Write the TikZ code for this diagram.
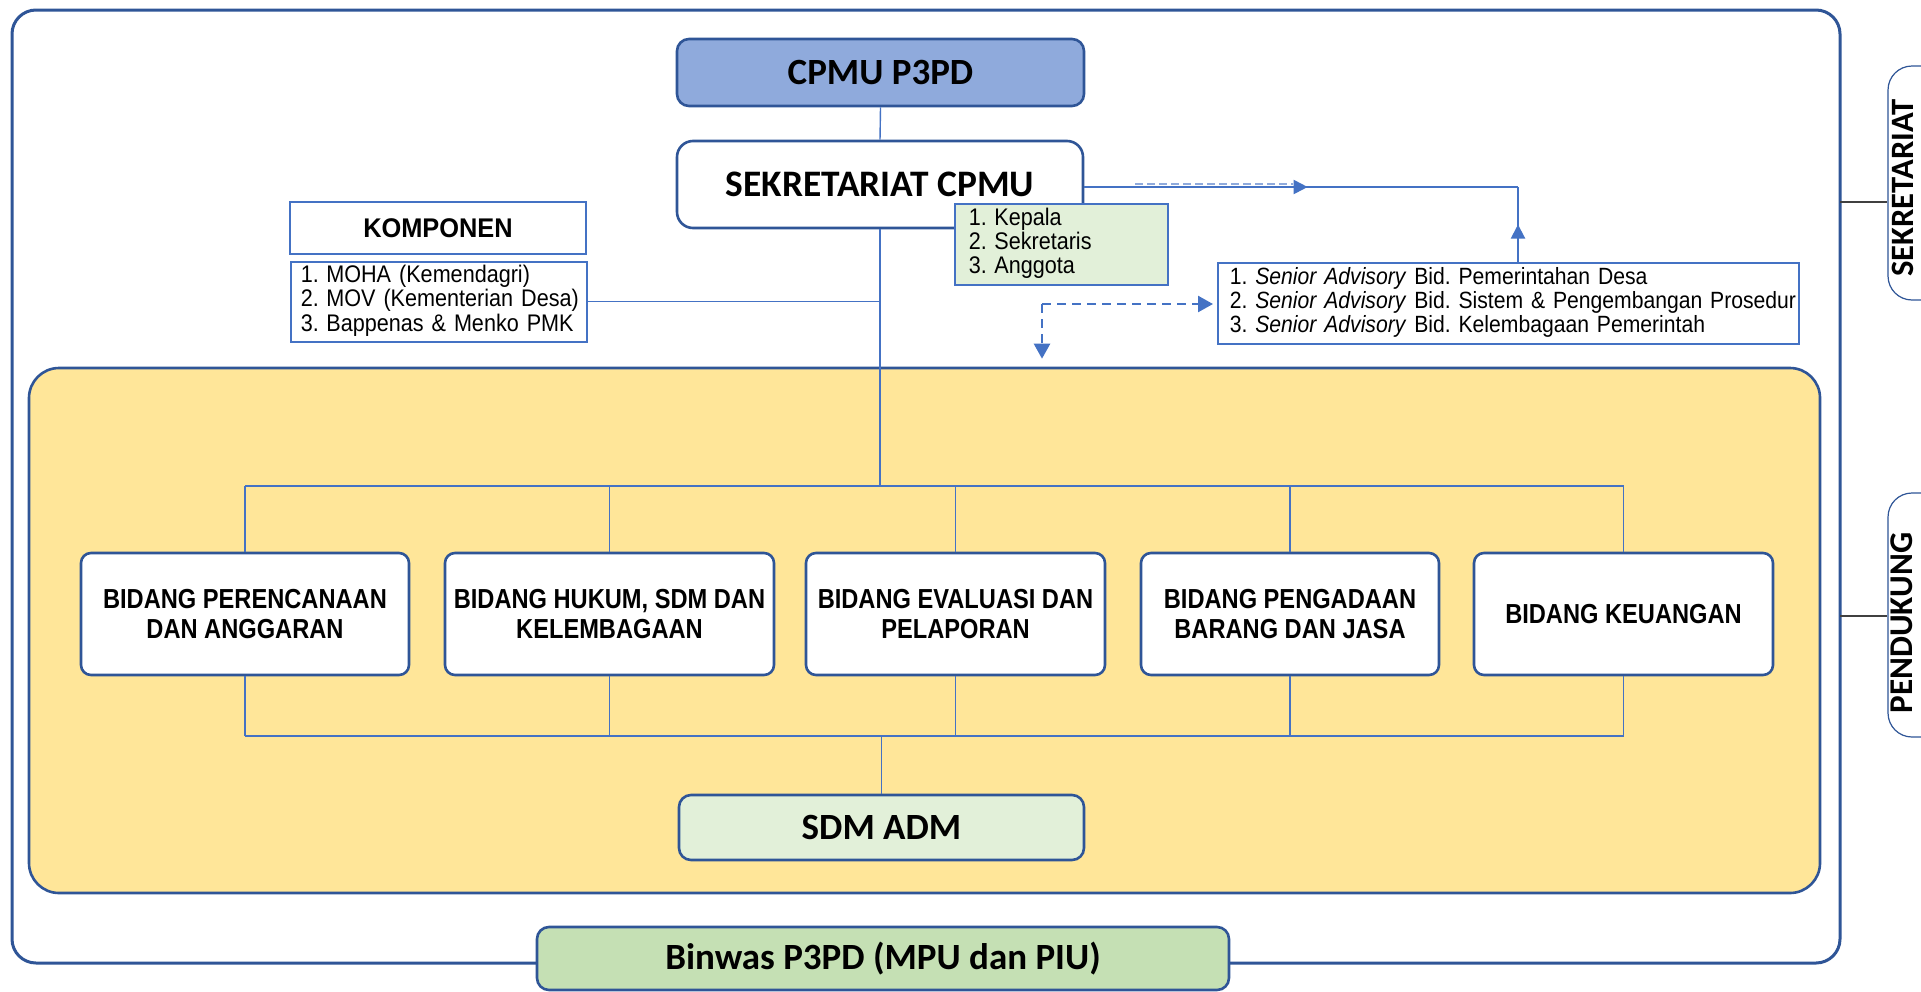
\documentclass[tikz,border=0pt]{standalone}
\usepackage{fontspec}
\setmainfont{Carlito}
\newfontfamily\listfont[FakeStretch=0.9]{Liberation Sans}
\newfontfamily\bidfont[FakeStretch=0.86]{Liberation Sans}
\newfontfamily\headfont[FakeStretch=0.94]{Liberation Sans}
\usetikzlibrary{arrows.meta,decorations.markings}

\definecolor{frameblue}{HTML}{2F5597}
\definecolor{lineblue}{HTML}{4472C4}
\definecolor{softblue}{HTML}{8FAADC}
\definecolor{cpmufill}{HTML}{8FAADC}
\definecolor{panelyellow}{HTML}{FFE699}
\definecolor{palegreen}{HTML}{E2F0D9}
\definecolor{binwasgreen}{HTML}{C5E0B4}
\definecolor{sidegray}{HTML}{404040}

% numbered list line: number in a fixed-width slot, then the item
\newcommand\numitem[2]{\makebox[12.8pt][l]{#1}#2}

\begin{document}
\begin{tikzpicture}[x=0.5pt,y=-0.5pt,
  titlebox/.style={draw=frameblue, line width=1.3pt, rounded corners=6pt, inner sep=0pt,
    font=\bfseries\fontsize{18.5}{20}\selectfont},
  bidbox/.style={draw=frameblue, fill=white, line width=1.3pt, rounded corners=5pt, inner sep=0pt,
    minimum height=61pt, align=center, font=\bidfont\bfseries\fontsize{13.75}{15}\selectfont},
  listbox/.style={draw=lineblue, line width=0.75pt, inner ysep=0pt, align=left, anchor=north west,
    font=\listfont\frenchspacing\fontsize{12}{11.6}\selectfont},
  conn/.style={draw=lineblue, line width=0.7pt},
  arrowline/.style={draw=lineblue, line width=1pt},
  dasharrow/.style={draw=lineblue, line width=1.25pt, dash pattern=on 4.5pt off 3pt,
    -{Triangle[width=8pt,length=7.5pt]}},
  sidebox/.style={draw=frameblue, line width=0.6pt, rounded corners=12pt, minimum width=40pt, inner sep=0pt},
  sidetext/.style={rotate=90, font=\bfseries\fontsize{16.3}{18}\selectfont},
  sideline/.style={draw=sidegray, line width=0.7pt},
  midtip/.style={postaction=decorate, decoration={markings,
    mark=at position #1 with {\arrow{Triangle[width=7pt,length=7pt]}}}}
]
\useasboundingbox (0,0) rectangle (1921,991);
\fill[white] (0,0) rectangle (1921,991);

% outer frame and the yellow panel
\node[draw=frameblue, line width=1.5pt, rounded corners=12pt, fill=white,
  minimum width=914pt, minimum height=476.5pt, inner sep=0pt] (frame) at (926,486.5) {};
\node[draw=frameblue, line width=1.3pt, rounded corners=15pt, fill=panelyellow,
  minimum width=895.5pt, minimum height=262.5pt, inner sep=0pt] (panel) at (924.5,630.5) {};

% side labels
\node[sidebox, minimum height=117pt] (sidesek) at (1928,183) {};
\node[sidebox, minimum height=122pt] (sidepen) at (1928,615) {};
\node[sidetext] (sidesektxt) at (1903,188) {SEKRETARIAT};
\node[sidetext, font=\bfseries\fontsize{16.6}{18}\selectfont] (sidepentxt) at (1902,623) {PENDUKUNG};
\coordinate (s1) at (1840,202);
\coordinate (s2) at (1840,616);
\draw[sideline] (s1) -- (s1 -| sidesek.west);
\draw[sideline] (s2) -- (s2 -| sidepen.west);

% top of the hierarchy
\node[titlebox, fill=cpmufill, minimum width=203.5pt, minimum height=33.5pt] (cpmu) at (880.5,72.5) {CPMU P3PD};
\node[titlebox, fill=white, rounded corners=8pt, minimum width=203pt, minimum height=43.5pt,
  font=\bfseries\fontsize{18.7}{20}\selectfont] (sek) at (880,184.5) {SEKRETARIAT CPMU};

% component boxes
\node[draw=lineblue, line width=0.75pt, fill=white, minimum width=148pt, minimum height=26pt, inner sep=0pt,
  font=\headfont\bfseries\fontsize{13.5}{14}\selectfont] (komp) at (438,228) {KOMPONEN};
\node[listbox, fill=white, inner xsep=5pt, text width=138pt, minimum height=40pt] (komplist) at (290,261)
  {\begin{tabular}{@{}l@{}}
   \numitem{1.}{MOHA (Kemendagri)}\\
   \numitem{2.}{MOV (Kementerian Desa)}\\
   \numitem{3.}{Bappenas \& Menko PMK}
   \end{tabular}};

% units
\node[bidbox, minimum width=164pt] (b1) at (245,614) {BIDANG PERENCANAAN\\DAN ANGGARAN};
\node[bidbox, minimum width=164.5pt] (b2) at (609.5,614) {BIDANG HUKUM, SDM DAN\\KELEMBAGAAN};
\node[bidbox, minimum width=149.5pt] (b3) at (955.5,614) {BIDANG EVALUASI DAN\\PELAPORAN};
\node[bidbox, minimum width=149pt] (b4) at (1290,614) {BIDANG PENGADAAN\\BARANG DAN JASA};
\node[bidbox, minimum width=149.5pt] (b5) at (1623.5,614) {BIDANG KEUANGAN};

\node[titlebox, fill=palegreen, minimum width=202.5pt, minimum height=32.5pt] (sdm) at (881.5,827.5) {SDM ADM};
\node[titlebox, fill=binwasgreen, minimum width=346pt, minimum height=31.5pt] (binwas) at (883,958.5) {Binwas P3PD (MPU dan PIU)};

% tree connectors
\coordinate (bt) at (880,486);
\coordinate (bb) at (880,736);
\draw[conn] (cpmu.south) -- (sek.north);
\draw[conn] (sek.south) -- (sek.south |- bt);
\draw[conn] (komplist.east) -- (komplist.east -| sek.south);
\draw[conn] (b1.north |- bt) -- (b5.north |- bt);
\draw[conn] (b1.south |- bb) -- (b5.south |- bb);
\foreach \b in {b1,b2,b3,b4,b5} {
  \draw[conn] (\b.north) -- (\b.north |- bt);
  \draw[conn] (\b.south) -- (\b.south |- bb);
}
\draw[conn] (bb) -- (bb -| sdm.north) -- (sdm.north);

% secretariat members
\node[listbox, fill=palegreen, inner xsep=7pt, text width=92.5pt, minimum height=40.5pt] (anggota) at (954,203)
  {\begin{tabular}{@{}l@{}}
   \numitem{1.}{Kepala}\\
   \numitem{2.}{Sekretaris}\\
   \numitem{3.}{Anggota}
   \end{tabular}};

% senior advisors
\node[listbox, fill=white, inner xsep=6pt, text width=278.5pt, minimum height=40.5pt,
  font=\listfont\frenchspacing\fontsize{11.75}{11.4}\selectfont] (adv) at (1217,262)
  {\begin{tabular}{@{}l@{}}
   \numitem{1.}{\textit{Senior Advisory} Bid. Pemerintahan Desa}\\
   \numitem{2.}{\textit{Senior Advisory} Bid. Sistem \& Pengembangan Prosedur}\\
   \numitem{3.}{\textit{Senior Advisory} Bid. Kelembagaan Pemerintah}
   \end{tabular}};

% advisory links
\coordinate (turn) at (1518,187);
\coordinate (dsa) at (1135,184);
\coordinate (dsb) at (1293,184);
\draw[arrowline, midtip=0.515] (sek.east |- turn) -- (turn);
\draw[arrowline, midtip=0.5] (turn |- adv.north) -- (turn);
\draw[draw=softblue, line width=0.9pt, dash pattern=on 4pt off 2pt] (dsa) -- (dsb);

\coordinate (dc) at (1042,304);
\draw[dasharrow, shorten >=2pt] (dc) -- (dc -| adv.west);
\draw[dasharrow, shorten >=4pt] (dc) -- (dc |- panel.north);
\end{tikzpicture}
\end{document}
